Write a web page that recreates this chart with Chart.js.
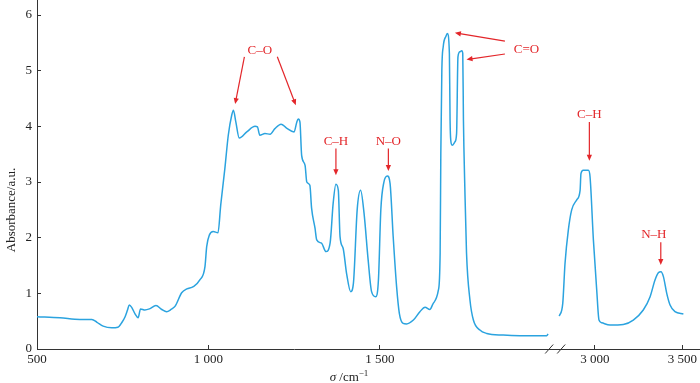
<!DOCTYPE html>
<html><head><meta charset="utf-8">
<script src="https://cdn.jsdelivr.net/npm/chart.js@4/dist/chart.umd.min.js"></script>
<style>html,body{margin:0;padding:0;background:#fff}#wrap{width:700px;height:383px;position:relative}</style>
</head><body><div id="wrap"><canvas id="c"></canvas></div>
<script>
// ---- data ----
const lowWavenumbers = [500,567,625,660,675,693,718,736,748,757,764,769,777,786,795,802,815,828,847,864,878,891,903,922,937,956,975,990,995,1003,1014,1028,1036,1048,1058,1068,1073,1080,1090,1112,1136,1143,1150,1165,1180,1194,1212,1228,1250,1258,1262,1267,1272,1282,1287,1296,1301,1311,1316,1330,1343,1355,1364,1372,1379,1384,1393,1403,1415,1423,1434,1444,1454,1466,1476,1488,1496,1503,1512,1522,1530,1539,1549,1557,1568,1578,1598,1617,1632,1646,1656,1671,1676,1678,1681,1685,1693,1697,1703,1705,1707,1711,1719,1724,1728,1734,1739,1742,1744,1748,1753,1763,1773,1792,1812,1860,1909,1987,1991];
const lowAbsorbance = [0.58,0.56,0.53,0.53,0.48,0.41,0.38,0.39,0.48,0.58,0.70,0.79,0.74,0.63,0.56,0.72,0.70,0.72,0.78,0.71,0.67,0.71,0.77,1.01,1.08,1.12,1.24,1.48,1.84,2.05,2.11,2.09,2.59,3.24,3.84,4.20,4.29,4.08,3.79,3.90,4.00,3.99,3.84,3.87,3.86,3.96,4.04,3.97,3.90,4.08,4.13,4.08,3.48,3.30,3.00,2.94,2.53,2.17,1.96,1.90,1.75,1.90,2.62,2.96,2.85,2.02,1.81,1.36,1.03,1.18,2.50,2.85,2.44,1.60,1.03,0.94,1.24,2.50,3.00,3.11,2.97,2.02,1.12,0.64,0.46,0.45,0.52,0.67,0.75,0.71,0.82,1.06,1.72,3.51,5.01,5.43,5.62,5.67,5.31,4.11,3.75,3.66,3.72,3.87,5.25,5.34,5.36,5.31,4.11,2.91,1.72,0.88,0.52,0.34,0.28,0.25,0.24,0.24,0.27];
const highWavenumbers = [2796,2816,2829,2848,2867,2896,2915,2920,2933,2962,2972,2991,3010,3023,3039,3086,3162,3219,3276,3315,3343,3362,3377,3391,3410,3429,3457,3505];
const highAbsorbance = [0.59,0.82,1.54,2.14,2.50,2.68,2.85,3.15,3.21,3.21,3.09,1.96,1.06,0.52,0.47,0.43,0.44,0.52,0.70,0.94,1.24,1.37,1.39,1.30,1.00,0.79,0.67,0.63];
const lowTicks = [500, 1000, 1500];
const highTicks = [3000, 3500];
const yTicks = [0, 1, 2, 3, 4, 5, 6];
const tickText = {500:'500', 1000:'1 000', 1500:'1 500', 3000:'3 000', 3500:'3 500'};
const yTitle = 'Absorbance/a.u.';
// band labels: text, scale, text anchor (wavenumber, absorbance), arrows [from, to]
const bands = [
  {text:'C–O', axis:'x1', at:[1150,5.37], arrows:[[[1105,5.25],[1078,4.40]],[[1201,5.25],[1255,4.38]]]},
  {text:'C–H', axis:'x1', at:[1372,3.72], arrows:[[[1372,3.60],[1372,3.12]]]},
  {text:'N–O', axis:'x1', at:[1525,3.72], arrows:[[[1525,3.60],[1525,3.20]]]},
  {text:'C=O', axis:'x1', at:[1928,5.38], arrows:[[[1865,5.53],[1719,5.68]],[[1865,5.30],[1753,5.20]]]},
  {text:'C–H', axis:'x2', at:[2968,4.22], arrows:[[[2968,4.08],[2968,3.38]]]},
  {text:'N–H', axis:'x2', at:[3336,2.06], arrows:[[[3376,1.92],[3376,1.51]]]}
];

const FONT = 'Liberation Serif, Times New Roman, serif';
const AXIS = '#333333';
const RED = '#e3262a';
const BLUE = '#2ba3df';

const extras = {
  id: 'extras',
  afterDraw(chart) {
    const ctx = chart.ctx;
    const y = chart.scales.y, x1 = chart.scales.x1, x2 = chart.scales.x2;
    ctx.save();
    // axis break marks
    const c = x1.right + 4, by = x1.top;
    ctx.strokeStyle = AXIS; ctx.lineWidth = 1;
    [c - 6, c + 6].forEach(cx => {
      ctx.beginPath(); ctx.moveTo(cx - 4, by + 4.5); ctx.lineTo(cx + 4, by - 4.5); ctx.stroke();
    });
    // band labels and arrows
    ctx.font = '13px ' + FONT;
    ctx.textAlign = 'center'; ctx.textBaseline = 'middle';
    bands.forEach(b => {
      const sx = chart.scales[b.axis];
      ctx.fillStyle = RED;
      ctx.fillText(b.text, sx.getPixelForValue(b.at[0]), y.getPixelForValue(b.at[1]));
      b.arrows.forEach(a => {
        const fx = sx.getPixelForValue(a[0][0]), fy = y.getPixelForValue(a[0][1]);
        const tx = sx.getPixelForValue(a[1][0]), ty = y.getPixelForValue(a[1][1]);
        const ang = Math.atan2(ty - fy, tx - fx);
        const hl = 6, hw = 2.6;
        ctx.strokeStyle = RED; ctx.lineWidth = 1.2;
        ctx.beginPath(); ctx.moveTo(fx, fy);
        ctx.lineTo(tx - Math.cos(ang) * (hl - 1), ty - Math.sin(ang) * (hl - 1)); ctx.stroke();
        ctx.beginPath();
        ctx.moveTo(tx, ty);
        ctx.lineTo(tx - Math.cos(ang) * hl - Math.sin(ang) * hw, ty - Math.sin(ang) * hl + Math.cos(ang) * hw);
        ctx.lineTo(tx - Math.cos(ang) * hl + Math.sin(ang) * hw, ty - Math.sin(ang) * hl - Math.cos(ang) * hw);
        ctx.closePath(); ctx.fill();
      });
    });
    // x title: σ /cm−1
    ctx.fillStyle = '#222';
    ctx.textAlign = 'left'; ctx.textBaseline = 'alphabetic';
    const italic = 'italic 13px ' + FONT, normal = '13px ' + FONT, small = '9px ' + FONT;
    ctx.font = italic; const w1 = ctx.measureText('σ').width;
    ctx.font = normal; const w2 = ctx.measureText(' /cm').width;
    ctx.font = small; const w3 = ctx.measureText('−1').width;
    const total = w1 + w2 + w3;
    const cx = chart.width / 2 - 1;
    let tx = cx - total / 2; const base = 381;
    ctx.font = italic; ctx.fillText('σ', tx, base); tx += w1;
    ctx.font = normal; ctx.fillText(' /cm', tx, base); tx += w2;
    ctx.font = small; ctx.fillText('−1', tx, base - 5);
    // y title
    ctx.font = normal; ctx.textAlign = 'center'; ctx.textBaseline = 'middle';
    ctx.translate(12, 210); ctx.rotate(-Math.PI / 2);
    ctx.fillText(yTitle, 0, 0);
    ctx.restore();
  }
};

function zeroPad(s) { s.paddingTop = 0; s.paddingBottom = 0; s.paddingLeft = 0; s.paddingRight = 0; }

function xScale(min, max, ticks, weight) {
  return {
    type: 'linear', position: 'bottom', stack: 'xs', stackWeight: weight,
    min, max,
    afterBuildTicks: s => { s.ticks = ticks.map(v => ({value: v})); },
    afterFit: s => { s.height = 34; zeroPad(s); },
    border: {display: true, color: AXIS, width: 1},
    grid: {display: true, drawOnChartArea: false, drawTicks: true, tickLength: -4, tickColor: AXIS, tickWidth: 1},
    ticks: {autoSkip: false, maxRotation: 0, padding: 7, color: '#222', font: {family: FONT, size: 13},
            callback: v => tickText[v]}
  };
}

new Chart(document.getElementById('c'), {
  type: 'line',
  data: {
    datasets: [
      {data: lowWavenumbers.map((v, i) => ({x: v, y: lowAbsorbance[i]})), xAxisID: 'x1', yAxisID: 'y',
       borderColor: BLUE, borderWidth: 1.5, pointRadius: 0, cubicInterpolationMode: 'monotone', fill: false},
      {data: highWavenumbers.map((v, i) => ({x: v, y: highAbsorbance[i]})), xAxisID: 'x2', yAxisID: 'y',
       borderColor: BLUE, borderWidth: 1.5, pointRadius: 0, cubicInterpolationMode: 'monotone', fill: false}
    ]
  },
  options: {
    responsive: true, maintainAspectRatio: false, animation: false,
    layout: {padding: 0},
    plugins: {legend: {display: false}, tooltip: {enabled: false}},
    scales: {
      x1: xScale(500, 2000, lowTicks, 514.2),
      x2: xScale(2750, 3600, highTicks, 148.8),
      y: {
        type: 'linear', position: 'left', min: 0, max: 6.27,
        afterBuildTicks: s => { s.ticks = yTicks.map(v => ({value: v})); },
        afterFit: s => { s.width = 37; zeroPad(s); },
        border: {display: true, color: AXIS, width: 1},
        grid: {display: true, drawOnChartArea: false, drawTicks: true, tickLength: -4, tickColor: AXIS, tickWidth: 1},
        ticks: {padding: 9, color: '#222', font: {family: FONT, size: 13}}
      }
    }
  },
  plugins: [extras]
});
</script>
</body></html>
